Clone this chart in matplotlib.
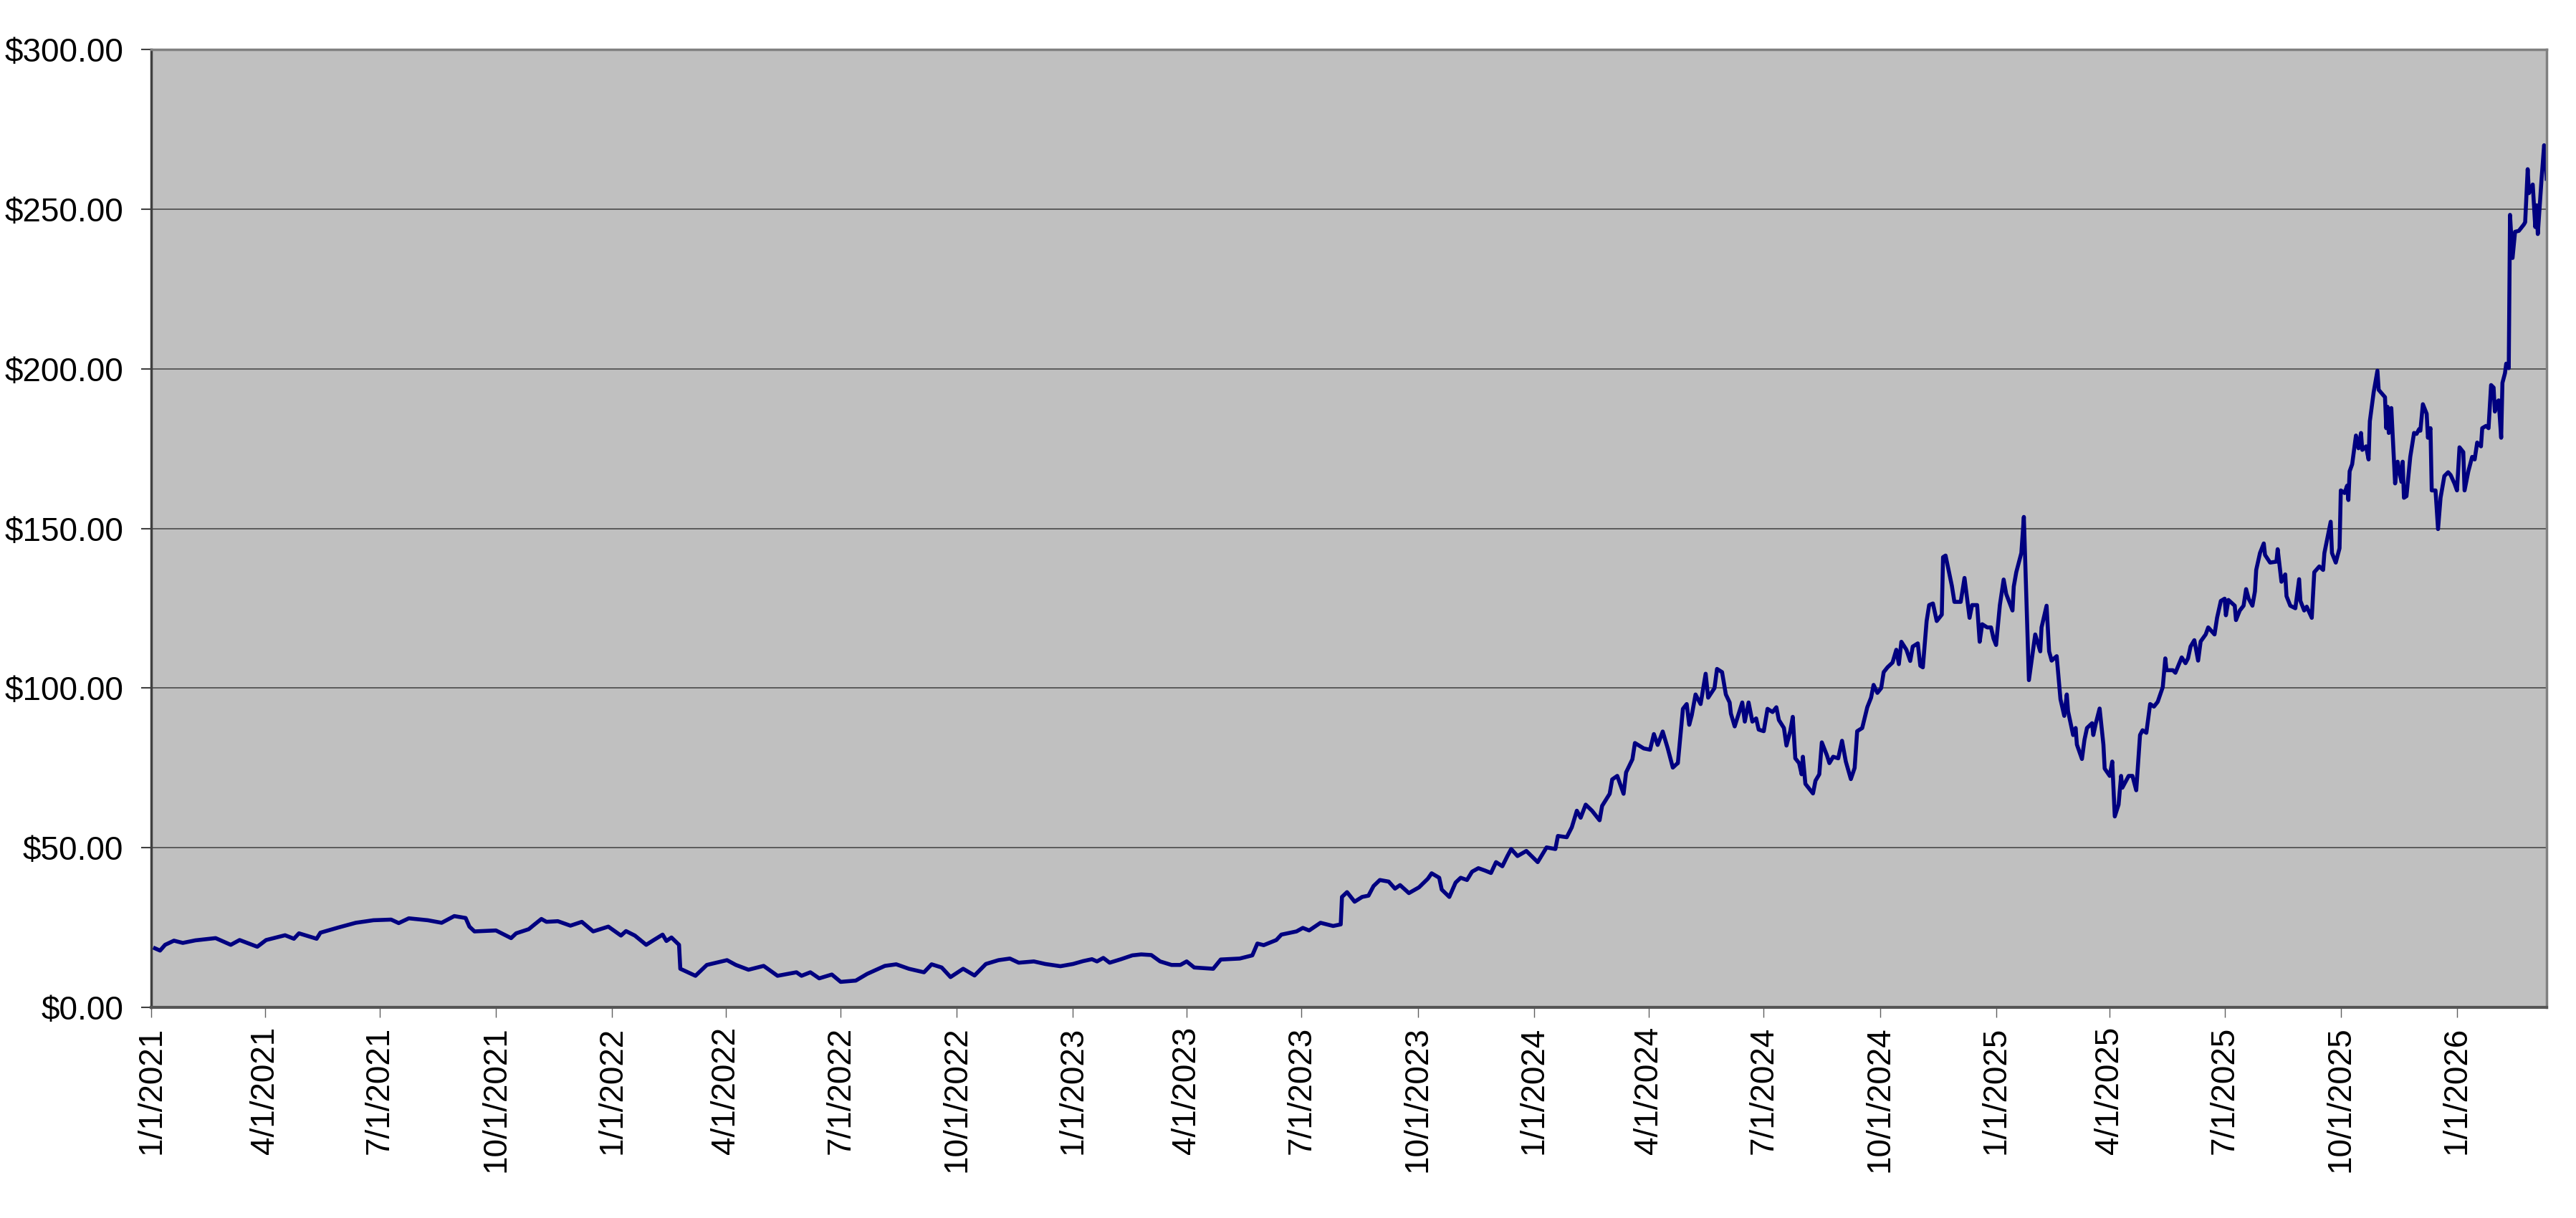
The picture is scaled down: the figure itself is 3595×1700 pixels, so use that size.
import numpy as np
import pandas as pd
import matplotlib
matplotlib.use("Agg")
import matplotlib.pyplot as plt
import matplotlib.dates as mdates
from matplotlib.ticker import FuncFormatter

plt.rcParams['font.family'] = ['Liberation Sans', 'DejaVu Sans']

# closing price series
dates = [
    "2021-01-04", "2021-01-08", "2021-01-12", "2021-01-19", "2021-01-26", "2021-02-05",
    "2021-02-21", "2021-03-05", "2021-03-12", "2021-03-26", "2021-04-02", "2021-04-17",
    "2021-04-24", "2021-04-28", "2021-05-12", "2021-05-15", "2021-05-29", "2021-06-12",
    "2021-06-26", "2021-07-10", "2021-07-16", "2021-07-24", "2021-08-08", "2021-08-19",
    "2021-08-29", "2021-09-07", "2021-09-10", "2021-09-14", "2021-10-01", "2021-10-13",
    "2021-10-17", "2021-10-27", "2021-10-31", "2021-11-06", "2021-11-10", "2021-11-19",
    "2021-11-29", "2021-12-08", "2021-12-17", "2021-12-29", "2022-01-08", "2022-01-12",
    "2022-01-19", "2022-01-28", "2022-02-03", "2022-02-10", "2022-02-13", "2022-02-17",
    "2022-02-23", "2022-02-24", "2022-03-08", "2022-03-17", "2022-04-02", "2022-04-09",
    "2022-04-19", "2022-05-01", "2022-05-12", "2022-05-27", "2022-05-31", "2022-06-07",
    "2022-06-14", "2022-06-24", "2022-07-01", "2022-07-13", "2022-07-22", "2022-08-05",
    "2022-08-14", "2022-08-24", "2022-09-05", "2022-09-11", "2022-09-19", "2022-09-26",
    "2022-10-06", "2022-10-15", "2022-10-24", "2022-11-03", "2022-11-12", "2022-11-19",
    "2022-12-01", "2022-12-10", "2022-12-22", "2023-01-01",
    "2023-01-09", "2023-01-16", "2023-01-20", "2023-01-25", "2023-01-30", "2023-02-08",
    "2023-02-17", "2023-02-24", "2023-03-04", "2023-03-11", "2023-03-20", "2023-03-27",
    "2023-04-01", "2023-04-07", "2023-04-22", "2023-04-28", "2023-05-13", "2023-05-23",
    "2023-05-27", "2023-06-01", "2023-06-11", "2023-06-15", "2023-06-27", "2023-07-02",
    "2023-07-07", "2023-07-16", "2023-07-26", "2023-08-01", "2023-08-02", "2023-08-06",
    "2023-08-12", "2023-08-18", "2023-08-23", "2023-08-27", "2023-09-01", "2023-09-08",
    "2023-09-13", "2023-09-17", "2023-09-24", "2023-10-02", "2023-10-09", "2023-10-12",
    "2023-10-18", "2023-10-20", "2023-10-26", "2023-10-31", "2023-11-04", "2023-11-09",
    "2023-11-13", "2023-11-18", "2023-11-23", "2023-11-28", "2023-12-02", "2023-12-07",
    "2023-12-11", "2023-12-14", "2023-12-19", "2023-12-26", "2024-01-04", "2024-01-11",
    "2024-01-18", "2024-01-20", "2024-01-27", "2024-01-31", "2024-02-04", "2024-02-07",
    "2024-02-11", "2024-02-16", "2024-02-22", "2024-02-24", "2024-03-01", "2024-03-03",
    "2024-03-07", "2024-03-12", "2024-03-14", "2024-03-19", "2024-03-21", "2024-03-28",
    "2024-04-02", "2024-04-05", "2024-04-08", "2024-04-12", "2024-04-16", "2024-04-20",
    "2024-04-23",
    "2024-04-24", "2024-04-28", "2024-05-01", "2024-05-03", "2024-05-05", "2024-05-08",
    "2024-05-12", "2024-05-16", "2024-05-18", "2024-05-23", "2024-05-25", "2024-05-29",
    "2024-06-01", "2024-06-04", "2024-06-05", "2024-06-08", "2024-06-14", "2024-06-16",
    "2024-06-19", "2024-06-22", "2024-06-25", "2024-06-27", "2024-07-01", "2024-07-04",
    "2024-07-08", "2024-07-11", "2024-07-13", "2024-07-17", "2024-07-19", "2024-07-22",
    "2024-07-24", "2024-07-26", "2024-07-29", "2024-07-31", "2024-08-01", "2024-08-03",
    "2024-08-07", "2024-08-09", "2024-08-11", "2024-08-14", "2024-08-16", "2024-08-20",
    "2024-08-22", "2024-08-25", "2024-08-29", "2024-09-01", "2024-09-04", "2024-09-08",
    "2024-09-11", "2024-09-13", "2024-09-17", "2024-09-21", "2024-09-24", "2024-09-26",
    "2024-09-29", "2024-10-02", "2024-10-04", "2024-10-07", "2024-10-11", "2024-10-14",
    "2024-10-16", "2024-10-18", "2024-10-22", "2024-10-25", "2024-10-27", "2024-10-31",
    "2024-11-02", "2024-11-04", "2024-11-07", "2024-11-09", "2024-11-12", "2024-11-15",
    "2024-11-19", "2024-11-20", "2024-11-22", "2024-11-27", "2024-11-29", "2024-12-04",
    "2024-12-07", "2024-12-11", "2024-12-13", "2024-12-17", "2024-12-19", "2024-12-21",
    "2024-12-25", "2024-12-28", "2024-12-30", "2025-01-01", "2025-01-04", "2025-01-07",
    "2025-01-09",
    "2025-01-14", "2025-01-15", "2025-01-17", "2025-01-21", "2025-01-23", "2025-01-27",
    "2025-02-01", "2025-02-05", "2025-02-06", "2025-02-10", "2025-02-12", "2025-02-14",
    "2025-02-18", "2025-02-21", "2025-02-24", "2025-02-26", "2025-02-27", "2025-03-03",
    "2025-03-05", "2025-03-06", "2025-03-10", "2025-03-12", "2025-03-14", "2025-03-18",
    "2025-03-19", "2025-03-21", "2025-03-24", "2025-03-27", "2025-03-28", "2025-04-01",
    "2025-04-03", "2025-04-05", "2025-04-08", "2025-04-10", "2025-04-11", "2025-04-16",
    "2025-04-19", "2025-04-22", "2025-04-25", "2025-04-27", "2025-04-30", "2025-05-03",
    "2025-05-06", "2025-05-09", "2025-05-13", "2025-05-15", "2025-05-16", "2025-05-21",
    "2025-05-23", "2025-05-28", "2025-05-31", "2025-06-02", "2025-06-04", "2025-06-07",
    "2025-06-10", "2025-06-12", "2025-06-16", "2025-06-18", "2025-06-23", "2025-06-25",
    "2025-06-28", "2025-07-01", "2025-07-02", "2025-07-04", "2025-07-09", "2025-07-10",
    "2025-07-13", "2025-07-16", "2025-07-18", "2025-07-20", "2025-07-23", "2025-07-25",
    "2025-07-26", "2025-07-29", "2025-08-01", "2025-08-02", "2025-08-06", "2025-08-11",
    "2025-08-12", "2025-08-15", "2025-08-18", "2025-08-19", "2025-08-22", "2025-08-26",
    "2025-08-29", "2025-08-30", "2025-09-02", "2025-09-04", "2025-09-08", "2025-09-10",
    "2025-09-14", "2025-09-17", "2025-09-18", "2025-09-23", "2025-09-24", "2025-09-27",
    "2025-09-30", "2025-10-01", "2025-10-04", "2025-10-06", "2025-10-07", "2025-10-08",
    "2025-10-10", "2025-10-13", "2025-10-15", "2025-10-17", "2025-10-18", "2025-10-21",
    "2025-10-23", "2025-10-24", "2025-10-27", "2025-10-30", "2025-10-31", "2025-11-05",
    "2025-11-06", "2025-11-07", "2025-11-08", "2025-11-10", "2025-11-13", "2025-11-15",
    "2025-11-18", "2025-11-19", "2025-11-20", "2025-11-22", "2025-11-25", "2025-11-28",
    "2025-11-30", "2025-12-02", "2025-12-03", "2025-12-05", "2025-12-08", "2025-12-09",
    "2025-12-11", "2025-12-12", "2025-12-15", "2025-12-17", "2025-12-19", "2025-12-22",
    "2025-12-25", "2025-12-27", "2025-12-30", "2026-01-01", "2026-01-03", "2026-01-06",
    "2026-01-07", "2026-01-10", "2026-01-13", "2026-01-15", "2026-01-17", "2026-01-20",
    "2026-01-21", "2026-01-24", "2026-01-26", "2026-01-28", "2026-01-30", "2026-01-31",
    "2026-02-02", "2026-02-03", "2026-02-05", "2026-02-06", "2026-02-08", "2026-02-09",
    "2026-02-11", "2026-02-12", "2026-02-14", "2026-02-16", "2026-02-19", "2026-02-23",
    "2026-02-24", "2026-02-26", "2026-02-27", "2026-03-02", "2026-03-04", "2026-03-05",
    "2026-03-06", "2026-03-09", "2026-03-11", "2026-03-12", "2026-03-13",
]

prices = [
    18.5, 17.8, 19.6, 20.9, 20.2, 21.0,
    21.7, 19.6, 21.1, 19.0, 21.1, 22.6,
    21.5, 23.2, 21.5, 23.4, 25.0, 26.5,
    27.3, 27.5, 26.4, 27.9, 27.3, 26.5,
    28.6, 28.0, 25.3, 23.8, 24.1, 21.7,
    23.2, 24.5, 25.8, 27.7, 26.8, 27.0,
    25.6, 26.8, 23.8, 25.3, 22.5, 23.9,
    22.5, 19.6, 21.1, 22.8, 20.8, 21.9,
    19.6, 12.1, 9.9, 13.3, 14.8, 13.3,
    11.8, 13.0, 9.9, 11.0, 9.9, 11.0,
    9.1, 10.3, 8.0, 8.4, 10.5, 13.0,
    13.5, 12.1, 11.0, 13.5, 12.5, 9.5,
    12.1, 10.0, 13.6, 14.8, 15.3, 14.0,
    14.4, 13.6, 12.9, 13.6,
    14.5, 15.1, 14.4, 15.5, 14.0, 15.1,
    16.3, 16.6, 16.4, 14.4, 13.3, 13.3,
    14.4, 12.5, 12.1, 15.0, 15.3, 16.3,
    20.0, 19.5, 21.1, 22.8, 23.8, 24.9,
    24.1, 26.5, 25.5, 26.0, 34.6, 36.1,
    33.1, 34.6, 35.0, 38.0, 39.9, 39.4,
    37.2, 38.3, 35.8, 37.6, 40.3, 42.0,
    40.6, 36.9, 34.6, 39.1, 40.6, 39.9,
    42.5, 43.6, 42.9, 42.1, 45.5, 44.2,
    47.4, 49.6, 47.4, 49.0, 45.5, 50.1,
    49.6, 53.7, 53.3, 56.4, 61.6, 59.4,
    63.5, 61.6, 58.6, 63.1, 66.9, 71.4,
    72.5, 66.9, 73.6, 77.7, 82.8, 81.1,
    80.7, 85.6, 82.2, 86.4, 81.1, 75.1,
    76.2,
    76.5, 93.5, 95.0, 88.5, 91.5, 98.0,
    95.0, 104.5, 97.0, 100.0, 106.0, 105.0,
    98.0, 95.5, 92.0, 88.0, 95.5, 89.5,
    95.5, 89.5, 90.5, 87.0, 86.5, 93.5,
    92.5, 94.0, 90.0, 87.5, 82.0, 86.5,
    91.0, 78.0, 76.5, 73.0, 78.5, 70.0,
    68.0, 67.0, 71.0, 73.0, 83.0, 79.0,
    76.5, 78.5, 78.0, 83.5, 77.0, 71.5,
    75.0, 86.5, 87.5, 94.0, 97.0, 101.0,
    98.5, 100.0, 105.0, 106.5, 108.0, 112.0,
    107.5, 114.5, 112.0, 108.5, 113.0, 114.0,
    107.0, 106.5, 121.0, 126.0, 126.5, 121.0,
    123.0, 141.0, 141.5, 132.0, 127.0, 127.0,
    134.5, 122.0, 126.0, 126.0, 114.5, 120.0,
    119.0, 119.0, 115.5, 113.5, 126.0, 134.0,
    129.5,
    124.3, 131.8, 136.3, 142.3, 153.6, 102.5,
    116.8, 111.5, 119.0, 125.8, 111.5, 108.6,
    110.0, 96.5, 91.3, 98.0, 92.8, 85.3,
    87.5, 82.3, 77.8, 83.8, 87.5, 89.0,
    85.3, 89.0, 93.6, 82.3, 74.8, 72.5,
    77.0, 59.8, 63.5, 72.5, 68.8, 72.5,
    72.5, 68.0, 85.3, 86.8, 86.0, 95.0,
    94.2, 95.7, 100.3, 109.3, 105.6, 105.6,
    104.8, 109.6, 107.8, 109.3, 113.0, 115.0,
    108.6, 114.6, 116.8, 119.0, 116.8, 122.0,
    127.3, 128.0, 122.8, 127.6, 125.8, 121.3,
    124.3, 125.8, 131.0, 128.0, 125.8, 130.3,
    137.0, 142.3, 145.3, 141.7, 139.3, 139.6,
    143.5, 133.3, 135.6, 128.8, 125.8, 125.0,
    134.1, 127.3, 124.3, 125.5, 122.0, 136.3,
    138.1, 137.0, 142.3, 152.1, 142.3, 139.3,
    143.8, 161.9, 161.1, 163.4, 158.9, 167.9,
    170.1, 179.1, 175.1, 179.9, 174.6, 175.7,
    171.6, 183.6, 192.6, 199.4, 193.4, 191.1,
    181.4, 188.1, 179.9, 187.7, 164.1, 170.9,
    164.6, 170.9, 159.6, 160.1, 172.4, 179.9,
    179.6, 181.1, 180.6, 188.9, 185.9, 178.4,
    181.4, 161.9, 161.9, 149.8, 159.6, 166.4,
    167.6, 166.7, 164.1, 161.9, 175.4, 173.9,
    161.9, 167.9, 172.4, 171.6, 176.9, 175.7,
    181.4, 182.1, 181.4, 194.9, 194.1, 186.6,
    189.6, 190.1, 178.4, 195.6, 198.6, 201.6,
    200.2, 248.2, 234.7, 242.9, 243.2, 245.2,
    245.9, 262.5, 255.0, 257.7, 244.4, 251.2,
    242.2, 259.5, 270.0, 267.7, 259.5,
]

y_ticks = [0, 50, 100, 150, 200, 250, 300]

x = pd.to_datetime(dates)

fig = plt.figure(figsize=(35.95, 17), dpi=100)
ax = fig.add_axes([0.0587, 0.1729, 0.9299, 0.7865])
ax.set_facecolor("#C0C0C0")

ax.plot(x, prices, color="#000080", lw=4.0, solid_joinstyle="round")

ax.set_ylim(0, 300)
ax.set_yticks(y_ticks)
ax.yaxis.set_major_formatter(FuncFormatter(lambda v, p: f"${v:,.2f}"))
ax.grid(axis="y", color="#404040", lw=1.1)
ax.set_axisbelow(True)

ax.set_xlim(pd.Timestamp("2021-01-01"), x[-1])
ax.xaxis.set_major_locator(mdates.MonthLocator(bymonth=[1, 4, 7, 10], bymonthday=1))
ax.xaxis.set_major_formatter(FuncFormatter(
    lambda v, p: "{d.month}/{d.day}/{d.year}".format(d=mdates.num2date(v))))

ax.tick_params(axis="x", labelsize=33, rotation=90, length=10, width=1,
               color="#606060", pad=9)
ax.tick_params(axis="y", labelsize=33, length=10, width=1.5,
               color="#404040", pad=18)

for side in ["top", "right"]:
    ax.spines[side].set_color("#808080")
    ax.spines[side].set_linewidth(2.5)
ax.spines["left"].set_color("#404040")
ax.spines["left"].set_linewidth(2.5)
ax.spines["bottom"].set_color("#555555")
ax.spines["bottom"].set_linewidth(3)

fig.savefig("out.png", dpi=100, facecolor="white")
